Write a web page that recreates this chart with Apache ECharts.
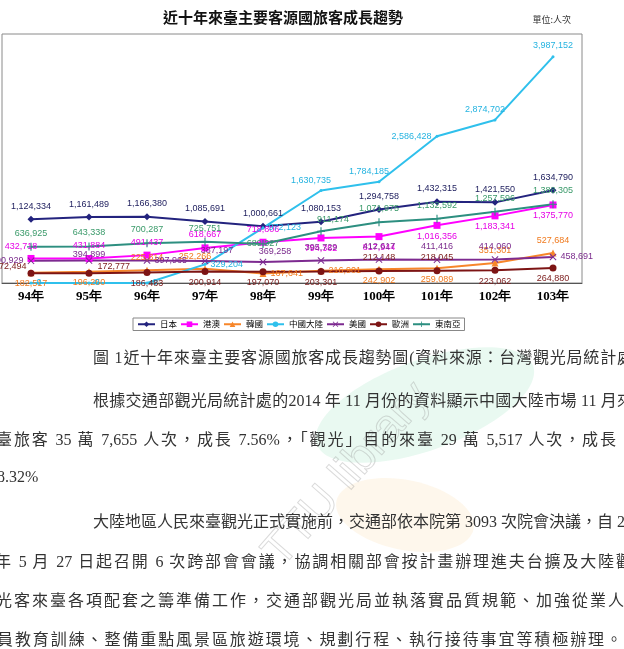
<!DOCTYPE html>
<html><head><meta charset="utf-8">
<script src="https://cdn.jsdelivr.net/npm/echarts@6/dist/echarts.min.js"></script>
<style>
html,body{margin:0;padding:0;background:#fff;width:624px;height:649px;overflow:hidden;position:relative}
#chart{position:absolute;left:0;top:0;width:624px;height:649px}
.ln{position:absolute;white-space:nowrap;font-family:'Liberation Serif','Noto Sans CJK TC',serif;font-size:16px;color:#333;line-height:20px;text-align:justify;text-align-last:justify;text-justify:inter-character;overflow:visible}
</style></head>
<body>
<div id="chart"></div>
<div class="ln" style="left:93px;top:348px;width:540px">圖 1近十年來臺主要客源國旅客成長趨勢圖(資料來源：台灣觀光局統計處</div>
<div class="ln" style="left:93px;top:391px;width:540px">根據交通部觀光局統計處的2014 年 11 月份的資料顯示中國大陸市場 11 月來</div>
<div class="ln" style="left:-4px;top:430px;width:620px">臺旅客 35 萬 7,655 人次，成長 7.56%，「觀光」目的來臺 29 萬 5,517 人次，成長</div>
<div class="ln" style="left:-3px;top:467px;text-align:left;text-align-last:auto">8.32%</div>
<div class="ln" style="left:93px;top:512px;width:535px">大陸地區人民來臺觀光正式實施前，交通部依本院第 3093 次院會決議，自 200</div>
<div class="ln" style="left:-5px;top:552px;width:637px">年 5 月 27 日起召開 6 次跨部會會議，協調相關部會按計畫辦理進夫台擴及大陸觀</div>
<div class="ln" style="left:-4px;top:591px;width:628px">光客來臺各項配套之籌準備工作，交通部觀光局並執落實品質規範、加強從業人</div>
<div class="ln" style="left:-3px;top:630px;width:625px">員教育訓練、整備重點風景區旅遊環境、規劃行程、執行接待事宜等積極辦理。</div>
<script>
const years = ['94年','95年','96年','97年','98年','99年','100年','101年','102年','103年'];
const japan    = [1124334,1161489,1166380,1085691,1000661,1080153,1294758,1432315,1421550,1634790];
const hkMacau  = [432718,431884,491437,618667,718806,794362,817944,1016356,1183341,1375770];
const korea    = [182517,196260,225814,252266,167641,216901,242902,259089,351301,527684];
const china    = [0,0,0,329204,972123,1630735,1784185,2586428,2874702,3987152];
const usa      = [390929,394899,397965,387197,369258,395729,412617,411416,414060,458691];
const europe   = [172494,172777,186483,200914,197070,203301,212148,218045,223062,264880];
const seAsia   = [636925,643338,700287,725751,689027,911174,1071975,1132592,1257596,1388305];

const posJapan  = ['top','top','top','top','top','top','top','top','top','top'];
const posHK     = ['tl','top','top','top','top','bottom','bottom','bottom','bottom','bottom'];
const posKorea  = ['bottom','bottom','top','tl','right','right','bottom','bottom','top','top'];
const posChina  = ['right','right','right','right','right','tl','tl','left','tl','top'];
const posUSA    = ['left','near','right','tr','tr','top','top','top','top','right'];
const posEurope = ['lt','rt','bottom','bottom','bottom','bottom','top','top','bottom','bottom'];
const posSE     = ['top','top','top','top','inside','tr','top','top','top','top'];

const posMap = {
  top:{position:'top',distance:5},
  bottom:{position:'bottom',distance:3},
  left:{position:'left',distance:4},
  right:{position:'right',distance:4},
  inside:{position:'inside'},
  near:{position:'top',distance:-2},
  tl:{position:'top',distance:4,offset:[-10,0]},
  tr:{position:'top',distance:3,offset:[12,0]},
  lt:{position:'left',distance:1,offset:[0,-7]},
  rt:{position:'right',distance:1,offset:[4,-7]}
};
const fmt = v => v.toLocaleString('en-US');
function mk(vals,pos){ return vals.map((v,i)=>({value:v,label:Object.assign({},posMap[pos[i]])})); }

const X = 'path://M1,0L5,4L9,0L10,1L6,5L10,9L9,10L5,6L1,10L0,9L4,5L0,1Z';
const PLUS = 'path://M4.3,0H5.7V4.3H10V5.7H5.7V10H4.3V5.7H0V4.3H4.3Z';

function ser(name,vals,pos,color,lblColor,symbol,size){
  return {name,type:'line',data:mk(vals,pos),symbol,symbolSize:size,
    lineStyle:{color,width:2},itemStyle:{color},
    label:{show:true,formatter:p=>fmt(p.value),color:lblColor,fontSize:9,fontFamily:'Liberation Sans'},
    z:2};
}

const chart = echarts.init(document.getElementById('chart'),null,{renderer:'canvas'});
chart.setOption({
  animation:false,
  backgroundColor:'#fff',
  title:[{text:'近十年來臺主要客源國旅客成長趨勢',left:278,textAlign:'center',top:5,
     textStyle:{fontFamily:'Noto Sans CJK TC',fontSize:15,fontWeight:'bold',color:'#111'}},
     {text:'單位:人次',right:48,top:10,textStyle:{fontFamily:'Noto Sans CJK TC',fontSize:9,fontWeight:'normal',color:'#333'}}],
  graphic:[
    {type:'ellipse',shape:{cx:0,cy:0,rx:115,ry:45},x:425,y:405,rotation:0.35,
      style:{fill:'rgba(120,215,170,0.16)'},z:-10},
    {type:'ellipse',shape:{cx:0,cy:0,rx:70,ry:35},x:405,y:515,rotation:-0.2,
      style:{fill:'rgba(250,200,120,0.14)'},z:-10},
    {type:'text',x:255,y:545,rotation:0.85,z:-9,
      style:{text:'TTU library',font:'46px Liberation Sans',fill:'rgba(0,0,0,0)',stroke:'rgba(150,150,150,0.35)',lineWidth:1}}
  ],
  grid:{left:2,top:34,width:580,height:249,show:true,borderColor:'#8a8a8a',borderWidth:1,containLabel:false},
  legend:{left:133,top:318,itemWidth:17,itemHeight:7,itemGap:3,padding:[2,4],borderColor:'#888',borderWidth:1,
    textStyle:{fontSize:8.5,fontFamily:'Noto Sans CJK TC',color:'#000'},
    data:['日本','港澳','韓國','中國大陸','美國','歐洲','東南亞']},
  xAxis:{type:'category',data:years,boundaryGap:true,
    axisLine:{lineStyle:{color:'#555'}},axisTick:{length:4,lineStyle:{color:'#555'}},
    axisLabel:{margin:7,fontSize:13,fontWeight:'bold',fontFamily:'Liberation Serif',color:'#000'}},
  yAxis:{type:'value',min:0,max:4390000,show:false,splitLine:{show:false}},
  series:[
    ser('日本',japan,posJapan,'#23237e','#1c1c5c','diamond',7),
    ser('港澳',hkMacau,posHK,'#ff00ff','#e600e6','rect',7),
    ser('韓國',korea,posKorea,'#f7862a','#f07a1e','triangle',7),
    ser('中國大陸',china,posChina,'#2fc0ec','#25b3e0','circle',3),
    ser('美國',usa,posUSA,'#7d2a90','#7a2a8c',X,7),
    ser('歐洲',europe,posEurope,'#7d1414','#7a1a1a','circle',7),
    ser('東南亞',seAsia,posSE,'#2d8f80','#3a9a6a',PLUS,8)
  ]
});
</script>
</body></html>
